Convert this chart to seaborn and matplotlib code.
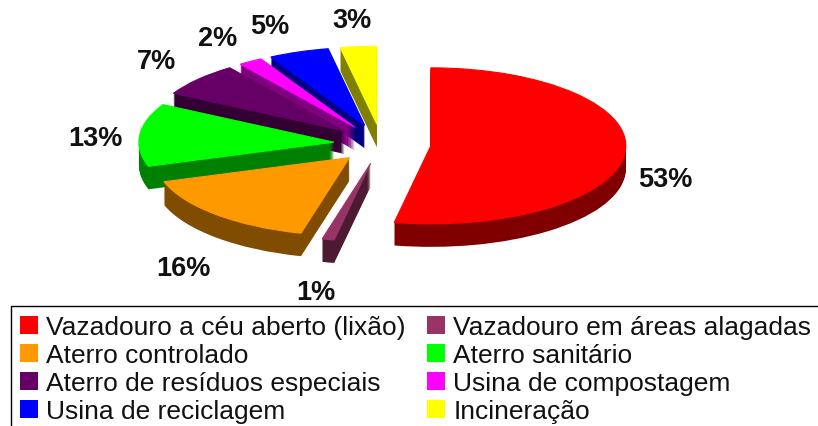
import matplotlib
matplotlib.use("Agg")
import matplotlib.pyplot as plt
from matplotlib.patches import Patch, Rectangle
import seaborn as sns

categories = ["Vazadouro a céu aberto (lixão)", "Vazadouro em áreas alagadas", "Aterro controlado",
              "Aterro sanitário", "Aterro de resíduos especiais", "Usina de compostagem",
              "Usina de reciclagem", "Incineração"]
values = [53, 1, 16, 13, 7, 2, 5, 3]
top_colors = ["#ff0000", "#993366", "#ff9900", "#00ff00", "#660066", "#ff00ff", "#0000ff", "#ffff00"]
side_colors = ["#800000", "#4d1a33", "#804d00", "#008000", "#330033", "#800080", "#000080", "#808000"]
pct_labels = ["53%", "1%", "16%", "13%", "7%", "2%", "5%", "3%"]
label_px = [(665, 180), (316, 293), (183, 269), (95, 139), (157, 62), (218, 39), (270, 27), (352, 21)]
stack_rank = [7, 5, 6, 4, 3, 2, 1, 0]
legend_order = [0, 2, 4, 6, 1, 3, 5, 7]

W, H = 818, 427
sns.set_theme(style="white")
plt.rcParams["font.family"] = ["Liberation Sans", "DejaVu Sans"]
top_pal = sns.color_palette(top_colors)
side_pal = sns.color_palette(side_colors)

fig = plt.figure(figsize=(W / 100, H / 100), dpi=100, facecolor="white")
ax = fig.add_axes([0, 0, 1, 1])

# pie centre (381.5, 145) px, ellipse radii 195 x 78 px
RX, RY, CX, CY = 195.0, 78.0, 381.5, 145.0
explode = [0.254, 0.254, 0.24, 0.245, 0.254, 0.254, 0.254, 0.254]
depth_px = 23
for k in range(depth_px, -1, -1):
    wedges, _ = ax.pie(values, colors=top_pal if k == 0 else side_pal, startangle=90, counterclock=False,
                       explode=explode, center=(0, -k / RY), radius=1,
                       wedgeprops=dict(linewidth=0.8 if k == 0 else 0))
    for w, r in zip(wedges, stack_rank):
        w.set_zorder(10 + r + (depth_px - k) / 100)
        if k == 0:
            w.set_edgecolor(w.get_facecolor())
ax.set_aspect("auto")
ax.set_xlim(-CX / RX, (W - CX) / RX)
ax.set_ylim((CY - H) / RY, CY / RY)
ax.set_axis_off()

for txt, (px, py) in zip(pct_labels, label_px):
    fig.text(px / W, 1 - py / H, txt, ha="center", va="center", fontsize=19.5, fontweight="bold", color="#111111")

# legend frame runs off the right and bottom edges
fig.add_artist(Rectangle((10.5 / W, -0.1), 1.0, 1 - 307 / H + 0.1, transform=fig.transFigure,
                         fill=False, edgecolor="black", linewidth=1.0, clip_on=False))
handles = [Patch(facecolor=top_pal[i], edgecolor="none") for i in legend_order]
labels = [categories[i] for i in legend_order]
fig.legend(handles, labels, ncol=2, frameon=False, loc="upper left",
           bbox_to_anchor=(20 / W, 1 - 316.5 / H), borderaxespad=0, borderpad=0,
           fontsize=19, handlelength=0.68, handleheight=0.68, handletextpad=0.3,
           labelspacing=0.15, columnspacing=0.83, labelcolor="#111111")
fig.savefig("out.png", dpi=100)
